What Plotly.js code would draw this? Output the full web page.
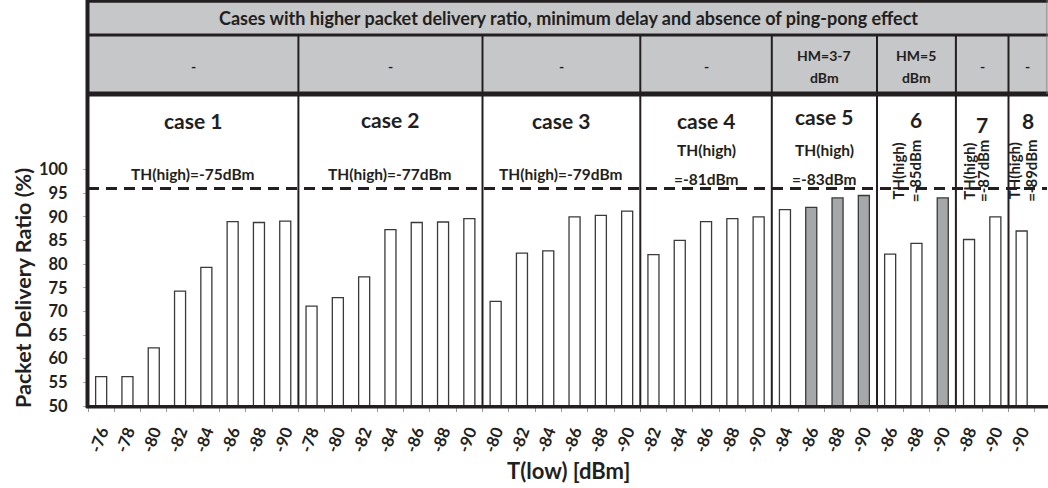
<!DOCTYPE html>
<html>
<head>
<meta charset="utf-8">
<script src="https://cdn.plot.ly/plotly-3.0.1.min.js"></script>
<style>html,body{margin:0;padding:0;background:#fff;}#chart{width:1048px;height:488px;}</style>
</head>
<body>
<div id="chart"></div>
<script>
// ---------------- DATA ----------------
const caseNames = ['case 1', 'case 2', 'case 3', 'case 4', 'case 5', '6', '7', '8'];
const thHigh = [-75, -77, -79, -81, -83, -85, -87, -89];
const hmLabels = ['-', '-', '-', '-', 'HM=3-7|dBm', 'HM=5|dBm', '-', '-'];

const tLowCase1 = [-76, -78, -80, -82, -84, -86, -88, -90];
const pdrCase1  = [56.2, 56.2, 62.3, 74.3, 79.3, 89.0, 88.8, 89.1];
const tLowCase2 = [-78, -80, -82, -84, -86, -88, -90];
const pdrCase2  = [71.1, 72.9, 77.3, 87.3, 88.8, 88.9, 89.6];
const tLowCase3 = [-80, -82, -84, -86, -88, -90];
const pdrCase3  = [72.1, 82.3, 82.8, 90.0, 90.3, 91.2];
const tLowCase4 = [-82, -84, -86, -88, -90];
const pdrCase4  = [82.0, 85.0, 89.0, 89.6, 90.0];
const tLowCase5 = [-84, -86, -88, -90];
const pdrCase5  = [91.5, 92.0, 94.0, 94.5];
const tLowCase6 = [-86, -88, -90];
const pdrCase6  = [82.1, 84.4, 94.0];
const tLowCase7 = [-88, -90];
const pdrCase7  = [85.2, 90.0];
const tLowCase8 = [-90];
const pdrCase8  = [87.0];

// bars marked (grey) as the best cases
const bestCase5 = [-86, -88, -90];
const bestCase6 = [-90];

const pdrThreshold = 96;

const yTicks = [50, 55, 60, 65, 70, 75, 80, 85, 90, 95, 100];

// ---------------- BUILD ----------------
const tLows = [tLowCase1, tLowCase2, tLowCase3, tLowCase4, tLowCase5, tLowCase6, tLowCase7, tLowCase8];
const pdrs  = [pdrCase1, pdrCase2, pdrCase3, pdrCase4, pdrCase5, pdrCase6, pdrCase7, pdrCase8];
const best  = [[], [], [], [], bestCase5, bestCase6, [], []];

const FONT = 'Lato, "Open Sans", sans-serif';
const DARK = '#231f20';
const WHITE_BAR = '#ffffff';
const GREY_BAR = '#a6a7a9';
const HEADER = '#c6c7c9';

const xs = [], ys = [], cols = [], tickText = [], starts = [];
let idx = 0;
tLows.forEach((arr, c) => {
  starts.push(idx);
  arr.forEach((t, j) => {
    xs.push(idx);
    ys.push(pdrs[c][j]);
    cols.push(best[c].includes(t) ? GREY_BAR : WHITE_BAR);
    tickText.push(String(t));
    idx++;
  });
});
const nCat = idx;

// geometry
const W = 1048, H = 488, ML = 88, MR = 1, MT = 1, MB = 82;
const PW = W - ML - MR, PH = H - MT - MB;
const catW = 26.3;                      // px per category
const xMin = -0.5, xMax = -0.5 + PW / catW;
const pxPerUnit = 4.73;
const yMin = 50, yMax = 50 + PH / pxPerUnit;
const px = v => (v - ML) / PW;                 // pixel x -> paper
const py = v => (H - MB - v) / PH;             // pixel y -> paper
const yLine1 = py(35), yLine2 = py(94);

const shapes = [];
// header background
shapes.push({type: 'rect', xref: 'paper', yref: 'paper', x0: 0, x1: 1, y0: yLine2, y1: 1.01, fillcolor: HEADER, line: {width: 0}, layer: 'below'});
// threshold dashed line
shapes.push({type: 'line', xref: 'x', yref: 'y', x0: xMin, x1: xMax, y0: pdrThreshold, y1: pdrThreshold, line: {color: DARK, width: 3, dash: '11px,7px'}});
// case separators
const bounds = [];
for (let c = 1; c < starts.length; c++) bounds.push(starts[c] - 0.5);
bounds.forEach(b => shapes.push({type: 'line', xref: 'x', yref: 'paper', x0: b, x1: b, y0: 0, y1: yLine1, line: {color: DARK, width: 2}}));
// frame lines
shapes.push({type: 'line', xref: 'paper', yref: 'paper', x0: px(87.5), x1: px(87.5), y0: py(408), y1: py(0), line: {color: DARK, width: 4}});
shapes.push({type: 'line', xref: 'paper', yref: 'paper', x0: px(86), x1: px(1048), y0: py(406.8), y1: py(406.8), line: {color: DARK, width: 3.5}});
shapes.push({type: 'line', xref: 'paper', yref: 'paper', x0: px(86), x1: px(1048), y0: py(1.2), y1: py(1.2), line: {color: DARK, width: 3}});
shapes.push({type: 'line', xref: 'paper', yref: 'paper', x0: px(86), x1: px(1048), y0: yLine1, y1: yLine1, line: {color: DARK, width: 3}});
shapes.push({type: 'line', xref: 'paper', yref: 'paper', x0: px(86), x1: px(1048), y0: yLine2, y1: yLine2, line: {color: DARK, width: 5}});
shapes.push({type: 'line', xref: 'paper', yref: 'paper', x0: px(1047), x1: px(1047), y0: yLine2, y1: py(0), line: {color: '#777', width: 1}});

const ann = [];
const bold = (size) => ({family: FONT, size: size, color: DARK, weight: 700});
const A = (o) => Object.assign({showarrow: false, xanchor: 'center', yanchor: 'middle'}, o);
// title row
ann.push(A({xref: 'paper', yref: 'paper', x: px(568), y: py(18), text: 'Cases with higher packet delivery ratio, minimum delay and absence of ping-pong effect', font: bold(18)}));
// column centres
const colCenter = c => {
  const a = starts[c] - 0.5;
  const b = c + 1 < starts.length ? starts[c + 1] - 0.5 : xMax;
  return (a + b) / 2;
};
hmLabels.forEach((t, c) => {
  const parts = t.split('|');
  if (parts.length === 1) {
    ann.push(A({xref: 'x', yref: 'paper', x: colCenter(c), y: py(66), text: parts[0], font: bold(14)}));
  } else {
    ann.push(A({xref: 'x', yref: 'paper', x: colCenter(c), y: py(55.5), text: parts[0], font: bold(14)}));
    ann.push(A({xref: 'x', yref: 'paper', x: colCenter(c), y: py(77.5), text: parts[1], font: bold(14)}));
  }
});
// case names
const caseNameY = [120, 119, 120, 120, 116, 119, 124, 120];
caseNames.forEach((n, c) => {
  ann.push(A({xref: 'x', yref: 'paper', x: colCenter(c), y: py(caseNameY[c]), text: n, font: bold(21)}));
});
// TH(high) labels
const vertOffsets = {5: [0.28, 0.95], 6: [-0.01, 0.53], 7: [-0.28, 0.35]};
thHigh.forEach((th, c) => {
  const l1 = 'TH(high)', l2 = '=' + th + 'dBm';
  if (c <= 2) {
    ann.push(A({xref: 'x', yref: 'paper', x: colCenter(c), y: py(174), text: l1 + l2, font: bold(15.5)}));
  } else if (c <= 4) {
    ann.push(A({xref: 'x', yref: 'paper', x: colCenter(c), y: py(150), text: l1, font: bold(15.5)}));
    ann.push(A({xref: 'x', yref: 'paper', x: colCenter(c), y: py(179), text: l2, font: bold(15.5)}));
  } else {
    const o = vertOffsets[c];
    ann.push(A({xref: 'x', yref: 'paper', x: starts[c] + o[0], y: py(171), text: l1, textangle: -90, font: bold(15)}));
    ann.push(A({xref: 'x', yref: 'paper', x: starts[c] + o[1], y: py(171), text: l2, textangle: -90, font: bold(15)}));
  }
});
// axis titles
ann.push(A({xref: 'paper', yref: 'paper', x: px(23), y: py(288), text: 'Packet Delivery Ratio (%)', textangle: -90, font: bold(21.5)}));
ann.push(A({xref: 'paper', yref: 'paper', x: px(568), y: py(470), text: 'T(low) [dBm]', font: bold(22)}));

const trace = {
  type: 'bar', x: xs, y: ys, width: 0.42,
  marker: {color: cols, line: {color: '#3a3a3a', width: 1.3}},
  hoverinfo: 'x+y', showlegend: false
};
const boundTicks = [];
for (let i = 0; i <= nCat; i++) boundTicks.push(i - 0.5);
const dummy = {type: 'scatter', x: [xMin], y: [yMin], xaxis: 'x2', mode: 'markers', marker: {opacity: 0}, hoverinfo: 'skip', showlegend: false};

const layout = {
  width: W, height: H,
  margin: {l: ML, r: MR, t: MT, b: MB, pad: 0},
  paper_bgcolor: '#fff', plot_bgcolor: '#fff',
  showlegend: false,
  xaxis: {range: [xMin, xMax], tickmode: 'array', tickvals: xs, ticktext: tickText, tickangle: -70,
    ticks: '', showgrid: false, zeroline: false, showline: false, ticklabelstandoff: 12,
    tickfont: {family: FONT, size: 16.5, color: DARK, weight: 700}},
  xaxis2: {range: [xMin, xMax], overlaying: 'x', anchor: 'y', side: 'bottom', tickmode: 'array', tickvals: boundTicks,
    ticks: 'outside', ticklen: 5, tickcolor: '#999', tickwidth: 1, showticklabels: false, showgrid: false, zeroline: false, showline: false},
  yaxis: {range: [yMin, yMax], tickmode: 'array', tickvals: yTicks, ticktext: yTicks.map(String),
    ticks: 'outside', ticklen: 4, tickcolor: '#aaa', tickwidth: 1, showgrid: false, zeroline: false, showline: false,
    ticklabelstandoff: 12, tickfont: {family: FONT, size: 16.5, color: DARK, weight: 700}},
  shapes: shapes,
  annotations: ann,
  bargap: 0.5
};
Plotly.newPlot('chart', [trace, dummy], layout, {displayModeBar: false, staticPlot: true});
</script>
</body>
</html>
